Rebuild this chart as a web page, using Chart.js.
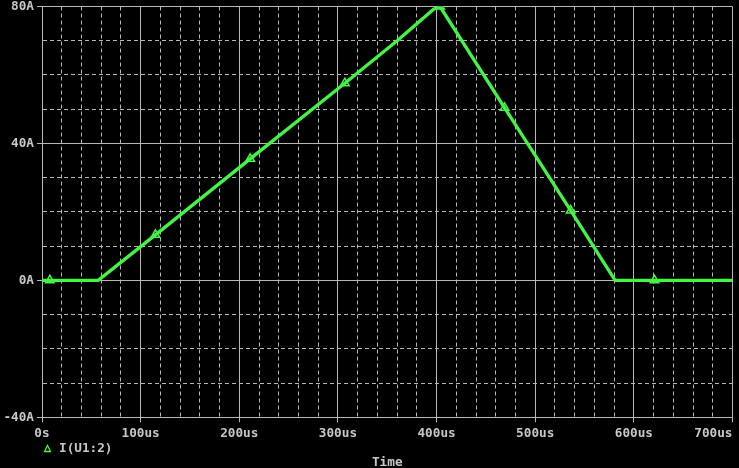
<!DOCTYPE html>
<html lang="en">
<head>
  <meta charset="UTF-8" />
  <title>I(U1:2) vs Time</title>
  <script src="https://cdn.jsdelivr.net/npm/chart.js"></script>
  <style>
    body { margin: 0; background: #000; }
    #wrap { position: relative; width: 739px; height: 468px; }
  </style>
</head>
<body>
  <div id="wrap">
    <canvas id="plot" width="739" height="468"></canvas>
  </div>

  <script>
    // trace I(U1:2), time in microseconds, current in amps
    const timeUs   = [0, 57, 115, 211, 307, 360, 397, 403.5, 469, 536, 581, 700];
    const currentA = [0, 0, 13.3, 35.5, 57.6, 70, 79.2, 80, 50.4, 20.4, 0, 0];

    // where PSpice put its little triangle markers
    const markerUs = [8, 115, 211, 307, 403.5, 469, 536, 621];
    const markerA  = [0, 13.3, 35.5, 57.6, 80, 50.4, 20.4, 0];

    const seriesName = 'I(U1:2)';
    const axisTitle = 'Time';

    const green = '#44f444';
    const grey = '#b8b8b8';
    const labelGrey = '#c8c8c8';
    const mono = { family: 'DejaVu Sans Mono', size: 12.7, weight: 'bold' };

    const tracePoints = timeUs.map((t, i) => ({ x: t, y: currentA[i] }));
    const markerPoints = markerUs.map((t, i) => ({ x: t, y: markerA[i] }));

    function xLabel(v) {
      if (v === 0) return '0s';
      if (v % 100 !== 0) return '';
      if (v === 700) return v + 'us     '; // pad so it sits right-aligned like the original
      return v + 'us';
    }

    // legend under the axis, like the probe window does it
    const legendPlugin = {
      id: 'probeLegend',
      afterDraw(chart) {
        const ctx = chart.ctx;
        ctx.save();
        ctx.strokeStyle = green;
        ctx.lineWidth = 1.3;
        ctx.beginPath();
        ctx.moveTo(47.5, 445.5);
        ctx.lineTo(50.5, 451.5);
        ctx.lineTo(44.5, 451.5);
        ctx.closePath();
        ctx.stroke();
        ctx.fillStyle = labelGrey;
        ctx.font = 'bold 12.7px "DejaVu Sans Mono"';
        ctx.textBaseline = 'middle';
        ctx.fillText(seriesName, 59, 448.5);
        ctx.restore();
      }
    };

    new Chart(document.getElementById('plot'), {
      type: 'scatter',
      data: {
        datasets: [
          {
            label: seriesName,
            data: tracePoints,
            showLine: true,
            borderColor: green,
            borderWidth: 3.3,
            pointRadius: 0,
            tension: 0
          },
          {
            label: 'markers',
            data: markerPoints,
            showLine: false,
            pointStyle: 'triangle',
            pointRadius: 5,
            pointBackgroundColor: '#000',
            pointBorderColor: green,
            pointBorderWidth: 1.5
          }
        ]
      },
      options: {
        responsive: false,
        animation: false,
        layout: { padding: { top: 6, right: 3.7, left: 0, bottom: 0 } },
        plugins: { legend: { display: false }, tooltip: { enabled: false } },
        scales: {
          x: {
            type: 'linear',
            min: 0,
            max: 700,
            afterFit(s) { s.height = 50.7; s.paddingLeft = 0; s.paddingRight = 0; },
            ticks: {
              stepSize: 20,
              autoSkip: false,
              maxRotation: 0,
              minRotation: 0,
              padding: 4,
              color: labelGrey,
              font: mono,
              callback: xLabel
            },
            grid: {
              color: grey,
              lineWidth: 1,
              tickLength: 5,
              tickColor: c => (c.tick && c.tick.value % 100 === 0) ? grey : 'transparent'
            },
            border: {
              color: grey,
              dash: c => (c.tick && c.tick.value % 100 === 0) ? [] : [4, 3]
            },
            title: {
              display: true,
              text: axisTitle,
              color: labelGrey,
              font: { family: 'DejaVu Sans Mono', size: 12.7, weight: 'bold', lineHeight: 1 },
              padding: { top: 0, bottom: -1 }
            }
          },
          y: {
            min: -40,
            max: 80,
            afterFit(s) { s.width = 42; s.paddingTop = 0; s.paddingBottom = 0; },
            ticks: {
              stepSize: 10,
              autoSkip: false,
              padding: 3,
              color: labelGrey,
              font: mono,
              callback: v => (v % 40 === 0) ? v + 'A' : ''
            },
            grid: {
              color: grey,
              lineWidth: 1,
              tickLength: 5,
              tickColor: c => (c.tick && c.tick.value % 40 === 0) ? grey : 'transparent'
            },
            border: {
              color: grey,
              dash: c => (c.tick && c.tick.value % 40 === 0) ? [] : [4, 3]
            }
          }
        }
      },
      plugins: [legendPlugin]
    });
  </script>
</body>
</html>
